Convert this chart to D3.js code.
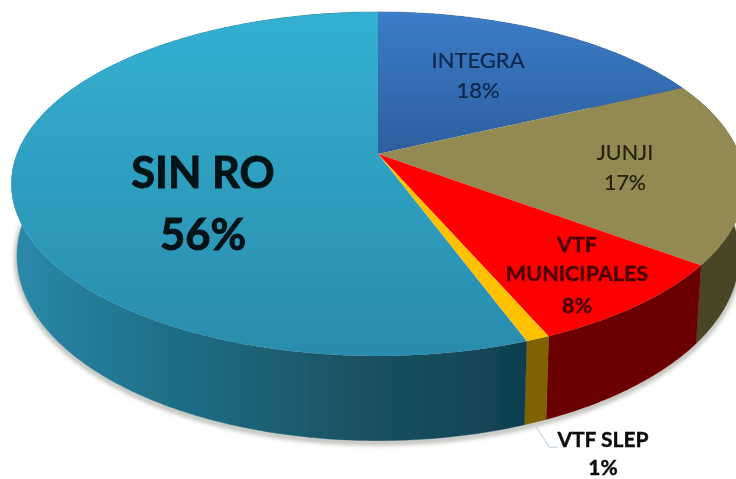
<!DOCTYPE html>
<html><head><meta charset="utf-8">
<script src="https://cdn.jsdelivr.net/npm/d3@7/dist/d3.min.js"></script>
<style>html,body{margin:0;padding:0;background:#fff;overflow:hidden}svg{display:block}text{font-family:Lato,"Open Sans",sans-serif}</style>
</head><body><script>
const categories = ["INTEGRA","JUNJI","VTF MUNICIPALES","VTF SLEP","SIN RO"];
const values = [18.0,17.2,8.3,0.9,55.6];
const percentLabels = ["18%","17%","8%","1%","56%"];
const topColors = [["#3c7cc8","#2c5f9e"],["#938953","#938953"],["#ff0000","#ff0000"],["#ffc000","#ffc000"],["#33b0d2","#2a8cad"]];
const sideColors = ["#1f3f6a","#4a4526","#6a0000","#806200","url(#sideTeal)"];

const W=736,H=479, cx=378, cy=154, rx=361, ry=166.8, k=0.174, depth=70, shrink=0.985;
const svg=d3.select("body").append("svg").attr("width",W).attr("height",H);
const defs=svg.append("defs");
defs.append("filter").attr("id","soft").attr("x","-5%").attr("y","-5%").attr("width","110%").attr("height","110%")
  .append("feGaussianBlur").attr("stdDeviation",0.55);
const sh=defs.append("filter").attr("id","shadow").attr("x","-5%").attr("y","-5%").attr("width","110%").attr("height","115%");
sh.append("feGaussianBlur").attr("stdDeviation",2.5);
const glow=defs.append("filter").attr("id","txt").attr("x","-10%").attr("y","-20%").attr("width","120%").attr("height","140%");
glow.append("feGaussianBlur").attr("stdDeviation",0.4);
categories.forEach((c,i)=>{
  const g=defs.append("linearGradient").attr("id","top"+i).attr("gradientUnits","userSpaceOnUse")
    .attr("x1",0).attr("x2",0).attr("y1",12).attr("y2",i===0?154:356);
  g.append("stop").attr("offset",0).attr("stop-color",topColors[i][0]);
  g.append("stop").attr("offset",1).attr("stop-color",topColors[i][1]);
});
const tealStops=[[0,"#2b8aab"],[.1,"#267f9d"],[.3,"#1f6f88"],[.5,"#1e6075"],[.68,"#1a5060"],[.85,"#174a5a"],[1,"#0e3d4e"]];
const st=defs.append("linearGradient").attr("id","sideTeal").attr("gradientUnits","userSpaceOnUse")
  .attr("x1",15).attr("x2",527).attr("y1",0).attr("y2",0);
tealStops.forEach(s=>st.append("stop").attr("offset",s[0]).attr("stop-color",s[1]));

function proj(a,lower){
  const u=Math.sin(a), v=Math.cos(a), s=1/(1+k*v);
  const x=rx*u*s, y=-ry*v*s;
  return lower ? [cx+x*shrink, cy+y+depth*s] : [cx+x, cy+y];
}
const pie=d3.pie().sort(null).value(d=>d);
const arcs=pie(values);
const line=d3.line();
const sample=(a0,a1)=>{const n=Math.max(2,Math.ceil((a1-a0)/0.01));return d3.range(n+1).map(i=>a0+(a1-a0)*i/n);};

const root=svg.append("g").attr("filter","url(#soft)");
const rim=sample(Math.PI/2,Math.PI*1.5).map(a=>proj(a,true));
root.append("path").attr("d",line(rim)).attr("fill","none").attr("stroke","#8a8a80").attr("stroke-width",3)
  .attr("transform","translate(0,2)").attr("filter","url(#shadow)");
root.append("g").selectAll("path").data(arcs).join("path")
  .attr("d",d=>{const t=sample(d.startAngle,d.endAngle);
    return line(t.map(a=>proj(a,false)).concat(t.slice().reverse().map(a=>proj(a,true))))+"Z";})
  .attr("fill",(d,i)=>sideColors[i]).attr("stroke",(d,i)=>sideColors[i]).attr("stroke-width",0.4);
root.append("g").selectAll("path").data(arcs).join("path")
  .attr("d",d=>line([[cx,cy]].concat(sample(d.startAngle,d.endAngle).map(a=>proj(a,false))))+"Z")
  .attr("fill",(d,i)=>`url(#top${i})`);
const slepMid=(arcs[3].startAngle+arcs[3].endAngle)/2, lp=proj(slepMid,true);
root.append("path").attr("d",d3.line()([[lp[0],lp[1]+3],[lp[0]+14,lp[1]+25],[lp[0]+22,lp[1]+25]]))
  .attr("fill","none").attr("stroke","#bccbdd").attr("stroke-width",1);

const labelSpec=[
 {x:478,lines:[[categories[0],68],[percentLabels[0],98]],size:22,weight:400,fill:"#0c2548",sw:0.2},
 {x:625,lines:[[categories[1],160],[percentLabels[1],190]],size:21.5,weight:400,fill:"#25210c",sw:0.2},
 {x:577,lines:[["VTF",252],["MUNICIPALES",281],[percentLabels[2],313]],size:21.5,weight:700,fill:"#4a0000",sw:0.4},
 {x:603,lines:[[categories[3],447],[percentLabels[3],475]],size:21,weight:700,fill:"#0a0a0a",sw:0.4},
 {x:203,lines:[[categories[4],188],[percentLabels[4],250]],size:43.5,weight:700,fill:"#061218",sw:0.9}
];
const tg=svg.append("g").attr("filter","url(#txt)");
labelSpec.forEach(l=>l.lines.forEach(t=>{
  tg.append("text").attr("x",l.x).attr("y",t[1]).attr("text-anchor","middle")
    .attr("font-size",l.size).attr("font-weight",l.weight).attr("fill",l.fill)
    .attr("stroke",l.fill).attr("stroke-width",l.sw).text(t[0]);
}));
</script></body></html>
